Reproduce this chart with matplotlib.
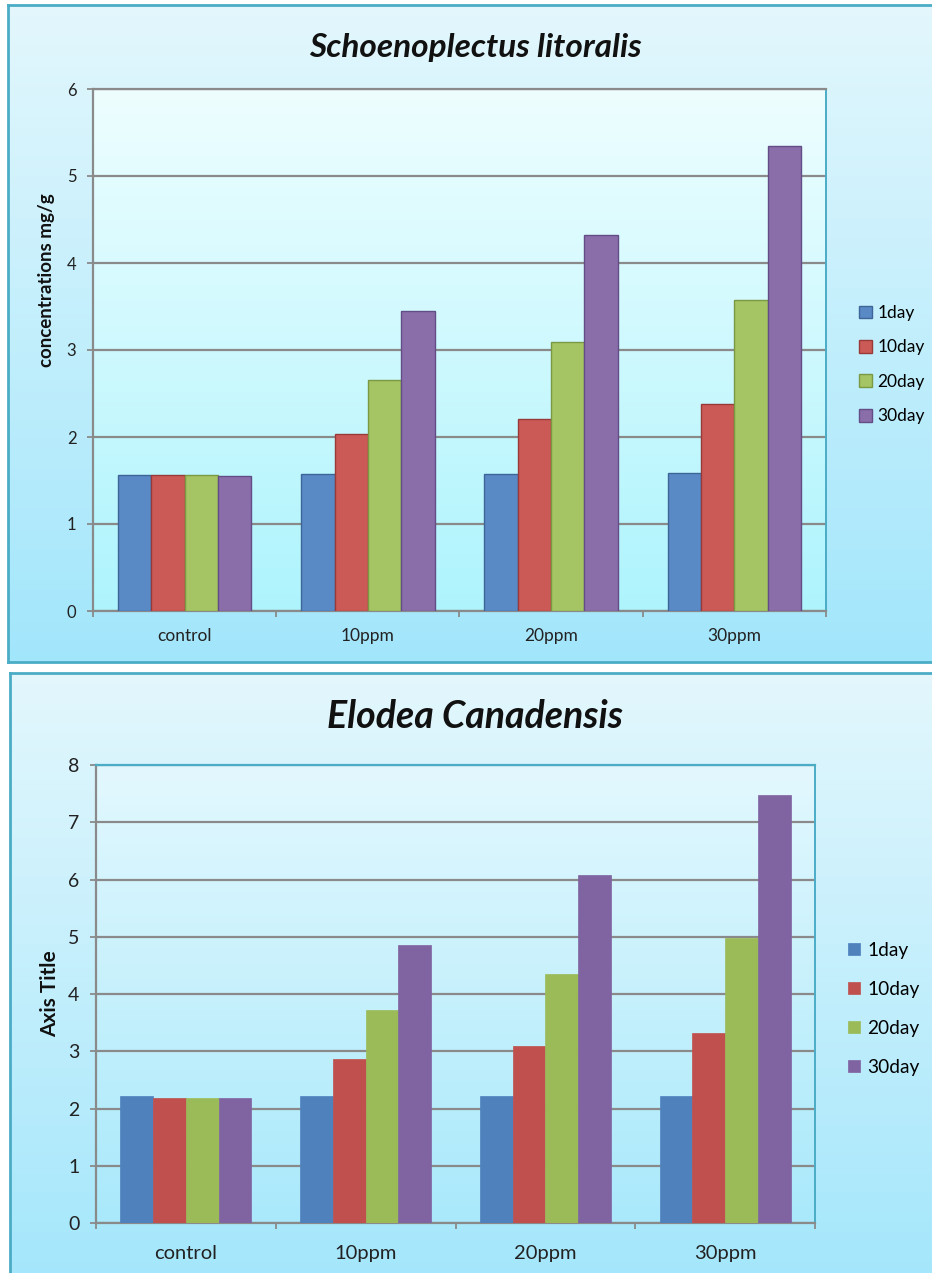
import numpy as np
import matplotlib.pyplot as plt
from matplotlib.colors import to_rgb

plt.rcParams['font.family'] = ['Lato', 'DejaVu Sans']

# data
groups = ['control', '10ppm', '20ppm', '30ppm']
series = ['1day', '10day', '20day', '30day']

schoeno_1day = [1.56, 1.57, 1.58, 1.59]
schoeno_10day = [1.56, 2.04, 2.21, 2.38]
schoeno_20day = [1.56, 2.65, 3.09, 3.57]
schoeno_30day = [1.55, 3.45, 4.32, 5.35]

elodea_1day = [2.22, 2.22, 2.22, 2.22]
elodea_10day = [2.19, 2.86, 3.09, 3.32]
elodea_20day = [2.19, 3.72, 4.35, 4.98]
elodea_30day = [2.19, 4.85, 6.08, 7.47]

top_colors = ['#5a8ac6', '#cb5a57', '#a5c463', '#8a6eaa']
top_edges = ['#3d6597', '#9a3a38', '#7b9843', '#624d87']
bot_colors = ['#4f81bd', '#c0504d', '#9bbb59', '#8064a2']

W, H = 932, 1273
fig = plt.figure(figsize=(W / 100, H / 100), dpi=100)
fig.patch.set_facecolor('white')


def rect(x0, y0, x1, y1):
    return [x0 / W, 1 - y1 / H, (x1 - x0) / W, (y1 - y0) / H]


def gradient(ax, top, bottom, z=0):
    c0 = np.array(to_rgb(top))
    c1 = np.array(to_rgb(bottom))
    t = np.linspace(0, 1, 256)[:, None]
    img = (c0 * (1 - t) + c1 * t)[:, None, :]
    ax.imshow(img, extent=[0, 1, 0, 1], transform=ax.transAxes,
              aspect='auto', zorder=z, interpolation='bilinear')


def frame(box):
    ax = fig.add_axes(rect(*box), zorder=0)
    gradient(ax, '#e3f7fd', '#a2e6fb')
    ax.set_xlim(0, 1)
    ax.set_ylim(0, 1)
    ax.set_xticks([])
    ax.set_yticks([])
    for s in ax.spines.values():
        s.set_color('#4bacc6')
        s.set_linewidth(2)
    return ax


def chart(box, ymax, vals, colors, edges, bg, top_spine, fs, xfs, xpad):
    bga = fig.add_axes(rect(*box), zorder=1)
    gradient(bga, bg[0], bg[1])
    bga.axis('off')
    ax = fig.add_axes(rect(*box), zorder=2)
    ax.patch.set_alpha(0)
    x = np.arange(len(groups))
    w = 0.182
    for i, v in enumerate(vals):
        ax.bar(x + (i - 1.5) * w, v, w, color=colors[i],
               edgecolor=edges[i] if edges else colors[i],
               linewidth=1.0 if edges else 0.5, label=series[i], zorder=3)
    ax.set_xlim(-0.5, 3.5)
    ax.set_ylim(0, ymax)
    ax.set_yticks(range(ymax + 1))
    ax.yaxis.grid(True, color='#8a8a8a', linewidth=1.6)
    ax.set_axisbelow(True)
    ax.set_xticks([-0.5, 0.5, 1.5, 2.5, 3.5])
    ax.set_xticklabels([])
    ax.set_xticks(x, minor=True)
    ax.set_xticklabels(groups, minor=True, fontsize=xfs, color='#222222')
    ax.tick_params(axis='x', which='minor', length=0, pad=xpad)
    ax.tick_params(axis='x', which='major', length=4, width=1.3,
                   color='#8a8a8a')
    ax.tick_params(axis='y', length=4, width=1.3, color='#8a8a8a',
                   labelsize=fs, labelcolor='#222222', pad=8)
    ax.spines['left'].set_color('#8a8a8a')
    ax.spines['bottom'].set_color('#8a8a8a')
    ax.spines['left'].set_linewidth(1.6)
    ax.spines['bottom'].set_linewidth(1.6)
    ax.spines['right'].set_color('#4bacc6')
    ax.spines['right'].set_linewidth(1.4)
    ax.spines['top'].set_color(top_spine)
    ax.spines['top'].set_linewidth(1.6)
    return ax


# upper chart
frame((8, 5, 950, 662))
ax1 = chart((93, 89, 826, 611), 6,
            [schoeno_1day, schoeno_10day, schoeno_20day, schoeno_30day],
            top_colors, top_edges, ('#eefeff', '#aef4fd'), '#8a8a8a',
            12, 12.5, 12)
fig.text(475 / W, 1 - 47 / H, 'Schoenoplectus litoralis', fontsize=24,
         fontweight='bold', fontstyle='italic', ha='center', va='center',
         color='#111111')
fig.text(47 / W, 1 - 280 / H, 'concentrations mg/g', fontsize=13.5,
         fontweight='bold', rotation=90, ha='center', va='center',
         color='#111111')
ax1.legend(loc='upper left', bbox_to_anchor=(859 / W, 1 - 305 / H),
           bbox_transform=fig.transFigure, frameon=False, fontsize=12.5,
           handlelength=0.75, handleheight=0.75, handletextpad=0.3,
           labelspacing=1.06, borderpad=0, borderaxespad=0)

# lower chart
frame((10, 673, 950, 1300))
ax2 = chart((96, 765, 815, 1223), 8,
            [elodea_1day, elodea_10day, elodea_20day, elodea_30day],
            bot_colors, None, ('#e3f8fe', '#a9e9fb'), '#4bacc6',
            14, 14.5, 16)
fig.text(475 / W, 1 - 716 / H, 'Elodea Canadensis', fontsize=27,
         fontweight='bold', fontstyle='italic', ha='center', va='center',
         color='#111111')
fig.text(50 / W, 1 - 994 / H, 'Axis Title', fontsize=15,
         fontweight='bold', rotation=90, ha='center', va='center',
         color='#111111')
ax2.legend(loc='upper left', bbox_to_anchor=(848 / W, 1 - 942 / H),
           bbox_transform=fig.transFigure, frameon=False, fontsize=13.8,
           handlelength=0.6, handleheight=0.6, handletextpad=0.4,
           labelspacing=1.15, borderpad=0, borderaxespad=0)

fig.savefig('out.png', dpi=100)
